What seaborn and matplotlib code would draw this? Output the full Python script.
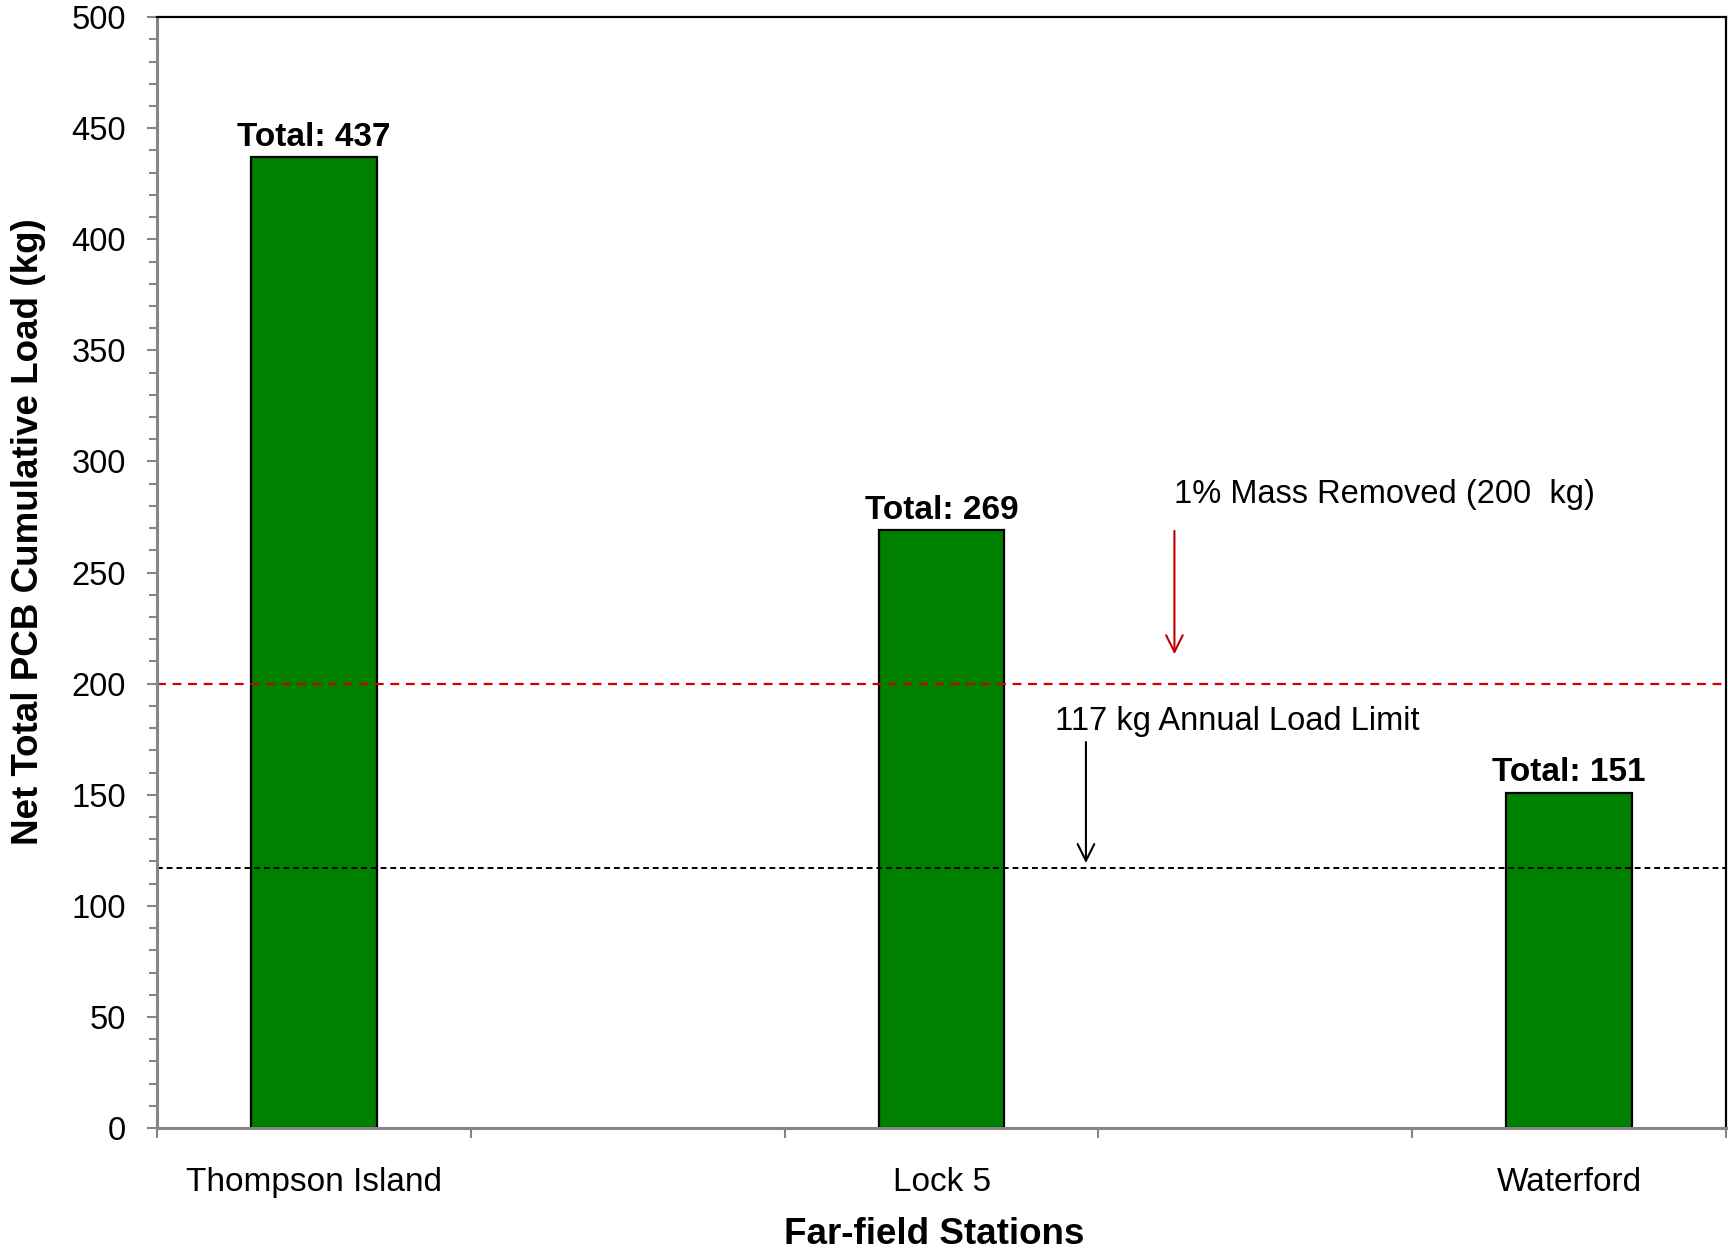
import matplotlib
matplotlib.use("Agg")
import matplotlib.pyplot as plt
from matplotlib.ticker import MultipleLocator
import pandas as pd
import seaborn as sns

# data
stations = ["Thompson Island", "Lock 5", "Waterford"]
loads = [437, 269, 151]
slots = ["Thompson Island", "gap1", "Lock 5", "gap2", "Waterford"]
mass_removed_1pct = 200
annual_limit = 117

sns.set_theme(style="white")
plt.rcParams["font.family"] = ["Liberation Sans", "DejaVu Sans"]
plt.rcParams["text.color"] = "black"
plt.rcParams["axes.labelcolor"] = "black"
plt.rcParams["xtick.color"] = "black"
plt.rcParams["ytick.color"] = "black"

df = pd.DataFrame({"Station": stations, "Load": loads})

fig = plt.figure(figsize=(17.28, 12.51), dpi=100)
ax = fig.add_axes([0.0909, 0.0983, 0.908, 0.888])

sns.barplot(data=df, x="Station", y="Load", order=slots, color="#008000",
            saturation=1, width=0.4, edgecolor="black", linewidth=1.6, ax=ax)

ax.set_xlim(-0.5, 4.5)
ax.set_ylim(0, 500)

# bar totals
for s, v in zip(stations, loads):
    ax.text(slots.index(s), v + 2, f"Total: {v}", ha="center", va="bottom",
            fontsize=24, fontweight="bold")

# reference lines
ax.axhline(mass_removed_1pct, color="#D00000", ls=(0, (4, 3)), lw=1.6)
ax.axhline(annual_limit, color="black", ls=(0, (3, 2)), lw=1.4)

ax.annotate("", xy=(2.742, 212), xytext=(2.742, 270),
            arrowprops=dict(arrowstyle="->", color="#C00000", lw=1.5, mutation_scale=30))
ax.text(2.742, 285, "1% Mass Removed (200  kg)", ha="left", va="center", fontsize=23.5)
ax.annotate("", xy=(2.46, 118), xytext=(2.46, 175),
            arrowprops=dict(arrowstyle="->", color="black", lw=1.5, mutation_scale=30))
ax.text(2.36, 183, "117 kg Annual Load Limit", ha="left", va="center", fontsize=23.5)

# axes styling
ax.set_xticks([-0.5, 0.5, 1.5, 2.5, 3.5, 4.5], [""] * 6)
ax.set_xticks([0, 2, 4], stations, minor=True)
ax.tick_params(axis="x", which="major", bottom=True, length=7, width=1.5, color="#868686")
ax.tick_params(axis="x", which="minor", bottom=True, length=0, pad=28, labelsize=24)

ax.yaxis.set_major_locator(MultipleLocator(50))
ax.yaxis.set_minor_locator(MultipleLocator(10))
ax.tick_params(axis="y", which="major", left=True, length=7.5, width=1.5,
               color="#868686", pad=15, labelsize=23.5)
ax.tick_params(axis="y", which="minor", left=True, length=5.5, width=1.5, color="#868686")

for side in ["left", "bottom"]:
    ax.spines[side].set_color("#868686")
    ax.spines[side].set_linewidth(2.2)
for side in ["top", "right"]:
    ax.spines[side].set_color("black")
    ax.spines[side].set_linewidth(1.6)

ax.set_xlabel("Far-field Stations", fontsize=26.5, fontweight="bold", labelpad=14)
ax.xaxis.label.set_x(0.495)
ax.set_ylabel("Net Total PCB Cumulative Load (kg)", fontsize=26.5, fontweight="bold")
ax.yaxis.set_label_coords(-0.0705, 0.537)

fig.savefig("out.png", dpi=100)
